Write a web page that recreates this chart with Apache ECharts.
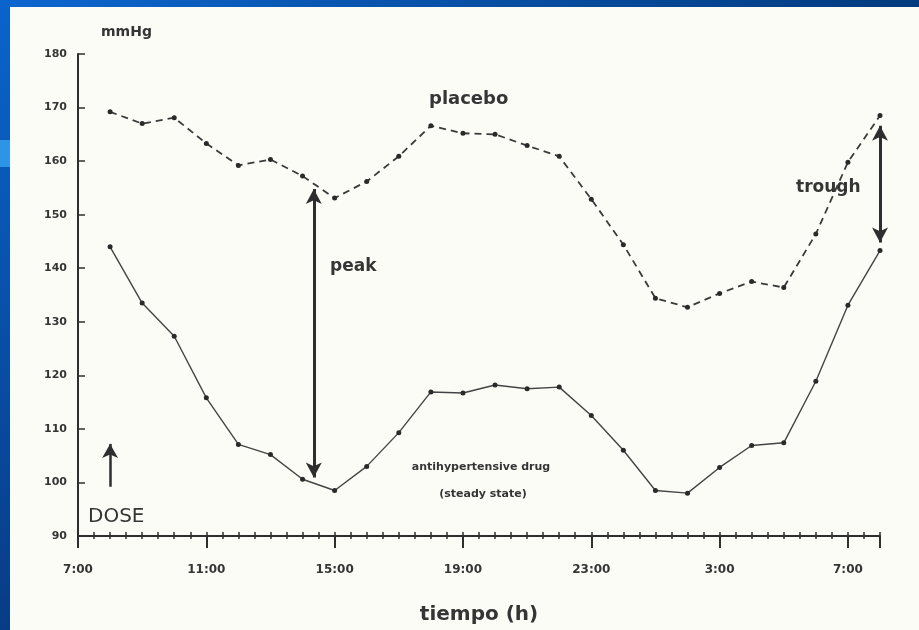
<!DOCTYPE html>
<html>
<head>
<meta charset="utf-8">
<script src="https://cdn.jsdelivr.net/npm/echarts@6/dist/echarts.min.js"></script>
<style>
html,body{margin:0;padding:0;background:#0a5ec6;}
#chart{width:919px;height:630px;}
</style>
</head>
<body>
<div id="chart"></div>
<script>
// Hours after 7:00 (x axis offset), one reading per hour from 8:00 to 8:00 next day
var hours = [1,2,3,4,5,6,7,8,9,10,11,12,13,14,15,16,17,18,19,20,21,22,23,24,25];
var placebo = [169.2,167.0,168.1,163.3,159.2,160.3,157.2,153.1,156.2,160.9,166.6,165.2,165.0,162.9,160.9,152.9,144.4,134.4,132.7,135.3,137.5,136.4,146.4,159.8,168.5];
var drug = [144.0,133.5,127.3,115.8,107.1,105.2,100.6,98.5,103.0,109.3,116.9,116.7,118.2,117.5,117.8,112.5,106.0,98.5,98.0,102.8,106.9,107.4,118.9,133.1,143.3];
var tickLabels = ['7:00','11:00','15:00','19:00','23:00','3:00','7:00'];
var peakArrow = {x: 7.35, from: 154.8, to: 100.9};
var troughArrow = {x: 25, from: 166.6, to: 144.8};
var doseArrow = {x: 1.0, from: 99.2, to: 107.2};

function pairs(xs, ys){ return xs.map(function(x,i){ return [x, ys[i]]; }); }

var FONT = 'DejaVu Sans';
var TXT = '#353535';
var gridPos = {left: 78, right: 39, top: 54, bottom: 91};

var chart = echarts.init(document.getElementById('chart'));
var option = {
  backgroundColor: 'transparent',
  animation: false,
  graphic: [
    {type:'rect', z:-10, shape:{x:0,y:0,width:919,height:630},
      style:{fill:{type:'linear',x:0,y:0,x2:1,y2:0,colorStops:[{offset:0,color:'#0d66cf'},{offset:1,color:'#023a7e'}]}}},
    {type:'rect', z:-9, shape:{x:0,y:0,width:10,height:630},
      style:{fill:{type:'linear',x:0,y:0,x2:0,y2:1,colorStops:[{offset:0,color:'#0a64cc'},{offset:1,color:'#083c86'}]}}},
    {type:'rect', z:-9, shape:{x:0,y:140,width:10,height:27}, style:{fill:'#2e95e6'}},
    {type:'rect', z:-8, shape:{x:10,y:7,width:909,height:623}, style:{fill:'#fcfcf7'}},
    {type:'text', left:101, top:25, style:{text:'mmHg', font:'bold 14px "DejaVu Sans"', fill:TXT}},
    {type:'text', left:429, top:90, style:{text:'placebo', font:'bold 18px "DejaVu Sans"', fill:TXT}},
    {type:'text', left:330, top:258, style:{text:'peak', font:'bold 17px "DejaVu Sans"', fill:TXT}},
    {type:'text', left:796, top:179, style:{text:'trough', font:'bold 17px "DejaVu Sans"', fill:TXT}},
    {type:'text', x:481, y:467, style:{text:'antihypertensive drug', font:'bold 11px "DejaVu Sans"', fill:TXT, align:'center', verticalAlign:'middle'}},
    {type:'text', x:483, y:494, style:{text:'(steady state)', font:'bold 11px "DejaVu Sans"', fill:TXT, align:'center', verticalAlign:'middle'}},
    {type:'text', left:88, top:507, style:{text:'DOSE', font:'20px "DejaVu Sans"', fill:TXT}}
  ],
  grid: [
    {left: gridPos.left, right: gridPos.right, top: gridPos.top, bottom: gridPos.bottom},
    {left: gridPos.left, right: gridPos.right, top: gridPos.top, bottom: gridPos.bottom}
  ],
  xAxis: [
    {type:'value', gridIndex:0, min:0, max:25, interval:4,
      axisLine:{show:true, onZero:false, lineStyle:{color:'#2e2e2e', width:2}},
      axisTick:{show:true, inside:false, length:12, lineStyle:{color:'#2e2e2e', width:2}},
      axisLabel:{color:TXT, fontFamily:FONT, fontWeight:'bold', fontSize:12, margin:28,
        formatter:function(v){ return (v % 4 === 0 && v/4 < tickLabels.length) ? tickLabels[v/4] : ''; }},
      splitLine:{show:false},
      name:'tiempo (h)', nameLocation:'middle', nameGap:69,
      nameTextStyle:{color:TXT, fontFamily:FONT, fontWeight:'bold', fontSize:20}
    },
    {type:'value', gridIndex:1, min:0, max:25, interval:0.5,
      axisLine:{show:false, onZero:false},
      axisTick:{show:true, inside:true, length:7, lineStyle:{color:'#2e2e2e', width:1.5}},
      axisLabel:{show:false}, splitLine:{show:false}
    }
  ],
  yAxis: [
    {type:'value', gridIndex:0, min:90, max:180, interval:10,
      axisLine:{show:true, onZero:false, lineStyle:{color:'#2e2e2e', width:2}},
      axisTick:{show:true, inside:true, length:7, lineStyle:{color:'#2e2e2e', width:1.5}},
      axisLabel:{color:TXT, fontFamily:FONT, fontWeight:'bold', fontSize:11, margin:11},
      splitLine:{show:false}
    },
    {type:'value', gridIndex:1, min:90, max:180, show:false}
  ],
  series: [
    {type:'line', name:'placebo', xAxisIndex:0, yAxisIndex:0, data: pairs(hours, placebo),
      symbol:'circle', symbolSize:5, itemStyle:{color:'#2a2a2a'},
      lineStyle:{color:'#3a3a3a', width:1.8, type:[7,5]},
      markLine:{silent:true, symbol:['arrow','arrow'], symbolSize:[12,15], label:{show:false},
        lineStyle:{color:'#2e2e2e', width:3, type:'solid'},
        data:[
          [{coord:[peakArrow.x, peakArrow.from]},{coord:[peakArrow.x, peakArrow.to]}],
          [{coord:[troughArrow.x, troughArrow.from]},{coord:[troughArrow.x, troughArrow.to]}]
        ]}
    },
    {type:'line', name:'antihypertensive drug', xAxisIndex:0, yAxisIndex:0, data: pairs(hours, drug),
      symbol:'circle', symbolSize:5, itemStyle:{color:'#2a2a2a'},
      lineStyle:{color:'#444', width:1.4},
      markLine:{silent:true, symbol:['none','arrow'], symbolSize:[12,14], label:{show:false},
        lineStyle:{color:'#2e2e2e', width:2.5, type:'solid'},
        data:[[{coord:[doseArrow.x, doseArrow.from]},{coord:[doseArrow.x, doseArrow.to]}]]}
    }
  ]
};
chart.setOption(option);
</script>
</body>
</html>
